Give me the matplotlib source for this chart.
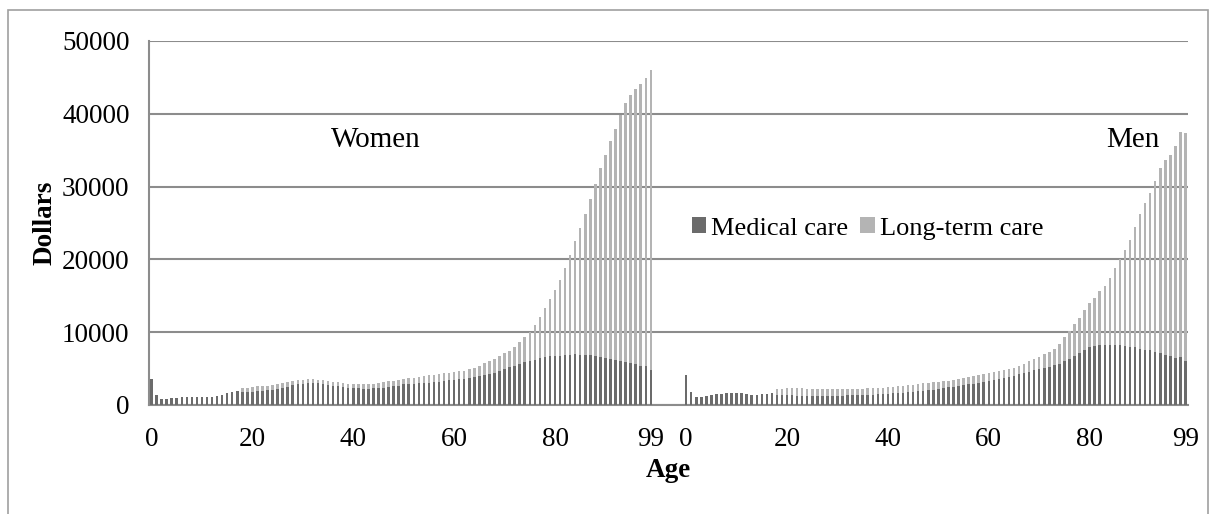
import numpy as np
import matplotlib
matplotlib.use("Agg")
import matplotlib.pyplot as plt
from matplotlib.patches import Rectangle

# ages 0..99, dollars per person
ages = list(range(100))
women_medical = [3580, 1380, 870, 870, 920, 960, 1050, 1050, 1050, 1100,
                 1150, 1100, 1050, 1190, 1380, 1700, 1840, 1970, 1740, 1790,
                 1840, 1930, 1970, 2020, 2070, 2200, 2340, 2520, 2710, 2850,
                 2940, 3030, 3030, 2980, 2890, 2800, 2660, 2570, 2480, 2390,
                 2340, 2300, 2250, 2250, 2300, 2340, 2390, 2480, 2570, 2640,
                 2850, 2890, 2890, 2980, 3080, 3080, 3210, 3210, 3310, 3440,
                 3490, 3580, 3630, 3760, 3860, 3990, 4130, 4320, 4410, 4680,
                 4910, 5190, 5370, 5650, 5870, 6000, 6230, 6450, 6590, 6730,
                 6730, 6730, 6860, 6910, 6950, 6910, 6860, 6820, 6770, 6640,
                 6500, 6360, 6230, 6050, 5910, 5770, 5590, 5320, 5410, 4770]
women_ltc = [0, 0, 0, 0, 0, 0, 0, 0, 0, 0,
             0, 0, 0, 0, 0, 0, 0, 0, 600, 600,
             640, 640, 650, 640, 640, 650, 640, 650, 600, 550,
             550, 500, 500, 510, 550, 550, 550, 550, 550, 500,
             510, 550, 600, 600, 590, 690, 780, 780, 780, 800,
             780, 830, 830, 880, 870, 1010, 970, 1010, 1050, 1010,
             1100, 1100, 1100, 1150, 1240, 1380, 1610, 1740, 1920, 2070,
             2210, 2290, 2620, 3030, 3450, 4000, 4820, 5600, 6680, 7820,
             9040, 10450, 12000, 13640, 15550, 17410, 19410, 21410, 23590, 25860,
             27820, 29870, 31720, 33810, 35540, 36820, 37810, 38720, 39490, 41270]
men_medical = [4130, 1740, 1150, 1150, 1240, 1330, 1470, 1520, 1610, 1650,
               1610, 1610, 1560, 1380, 1380, 1470, 1520, 1700, 1380, 1380,
               1330, 1330, 1290, 1290, 1240, 1240, 1240, 1240, 1240, 1240,
               1240, 1290, 1330, 1380, 1420, 1420, 1420, 1420, 1470, 1520,
               1560, 1610, 1650, 1700, 1740, 1790, 1880, 1930, 2020, 2120,
               2200, 2360, 2430, 2500, 2590, 2680, 2820, 2950, 3090, 3140,
               3320, 3450, 3590, 3700, 3820, 3950, 4230, 4360, 4500, 4770,
               4910, 5090, 5230, 5500, 5680, 6000, 6350, 6750, 7200, 7600,
               7900, 8100, 8200, 8300, 8300, 8250, 8200, 8100, 8000, 7900,
               7750, 7600, 7500, 7300, 7100, 6900, 6750, 6500, 6600, 6050]
men_ltc = [0, 0, 0, 0, 0, 0, 0, 0, 0, 0,
           0, 0, 0, 0, 0, 0, 0, 0, 820, 820,
           970, 1060, 1100, 1100, 960, 920, 920, 920, 920, 920,
           920, 910, 870, 820, 830, 830, 880, 880, 870, 870,
           870, 870, 920, 920, 970, 1010, 1010, 1050, 1060, 980,
           940, 910, 930, 950, 960, 1000, 1000, 1050, 1000, 1090,
           1040, 1100, 1140, 1160, 1130, 1190, 1180, 1320, 1500, 1500,
           1680, 1860, 2040, 2230, 2720, 3300, 3850, 4350, 4800, 5400,
           6100, 6600, 7400, 8100, 9200, 10550, 11800, 13200, 14600, 16600,
           18450, 20100, 21600, 23500, 25400, 26800, 27550, 29100, 30900, 31350]
tick_ages = [0, 20, 40, 60, 80, 99]

DARK, LIGHT, GRID = "#6b6b6b", "#b4b4b4", "#8c8c8c"
plt.rcParams["font.family"] = "Liberation Serif"

GAP = 106  # men's bars start after a few empty categories
xw = np.arange(100)
xm = np.arange(100) + GAP

fig = plt.figure(figsize=(12.10, 5.14), dpi=100)
ax = fig.add_axes([149/1210, 109/514, 1039/1210, 364/514])

w = 0.5
ax.bar(xw, women_medical, w, color=DARK, zorder=3, label="Medical care")
ax.bar(xw, women_ltc, w, bottom=women_medical, color=LIGHT, zorder=3, label="Long-term care")
ax.bar(xm, men_medical, w, color=DARK, zorder=3)
ax.bar(xm, men_ltc, w, bottom=men_medical, color=LIGHT, zorder=3)

ax.set_xlim(-0.5, GAP + 99.5)
ax.set_ylim(0, 50000)
ax.set_yticks(range(0, 50001, 10000))
ax.yaxis.grid(True, color=GRID, lw=1.5, zorder=0)
ax.set_axisbelow(True)
ax.tick_params(axis="y", length=0, pad=14, labelsize=19.5)
ticks = tick_ages + [a + GAP for a in tick_ages]
ax.set_xticks(ticks)
ax.set_xticklabels([str(a) for a in tick_ages] * 2)
ax.tick_params(axis="x", length=0, pad=16, labelsize=19.5)
for s in ["top", "right"]:
    ax.spines[s].set_visible(False)
for s in ["left", "bottom"]:
    ax.spines[s].set_color(GRID)
    ax.spines[s].set_linewidth(1.5)

ax.set_ylabel("Dollars", fontsize=19.5, weight="bold", labelpad=3)
ax.set_xlabel("Age", fontsize=19.5, weight="bold", labelpad=4)

ax.text(44.5, 36400, "Women", fontsize=21, ha="center", va="center")
ax.text(GAP + 88.5, 36400, "Men", fontsize=21, ha="center", va="center")

ax.legend(loc="center left", bbox_to_anchor=(0.512, 0.485), frameon=False, fontsize=19,
          ncol=2, handlelength=0.55, handleheight=0.55, handletextpad=0.2, columnspacing=0.45,
          borderaxespad=0)

# outer frame
fig.add_artist(Rectangle((8/1210, -0.05), 1200/1210, (514 - 10)/514 + 0.05,
                         transform=fig.transFigure, fill=False, edgecolor="#a0a0a0", lw=1.2))

fig.savefig("out.png", dpi=100)
